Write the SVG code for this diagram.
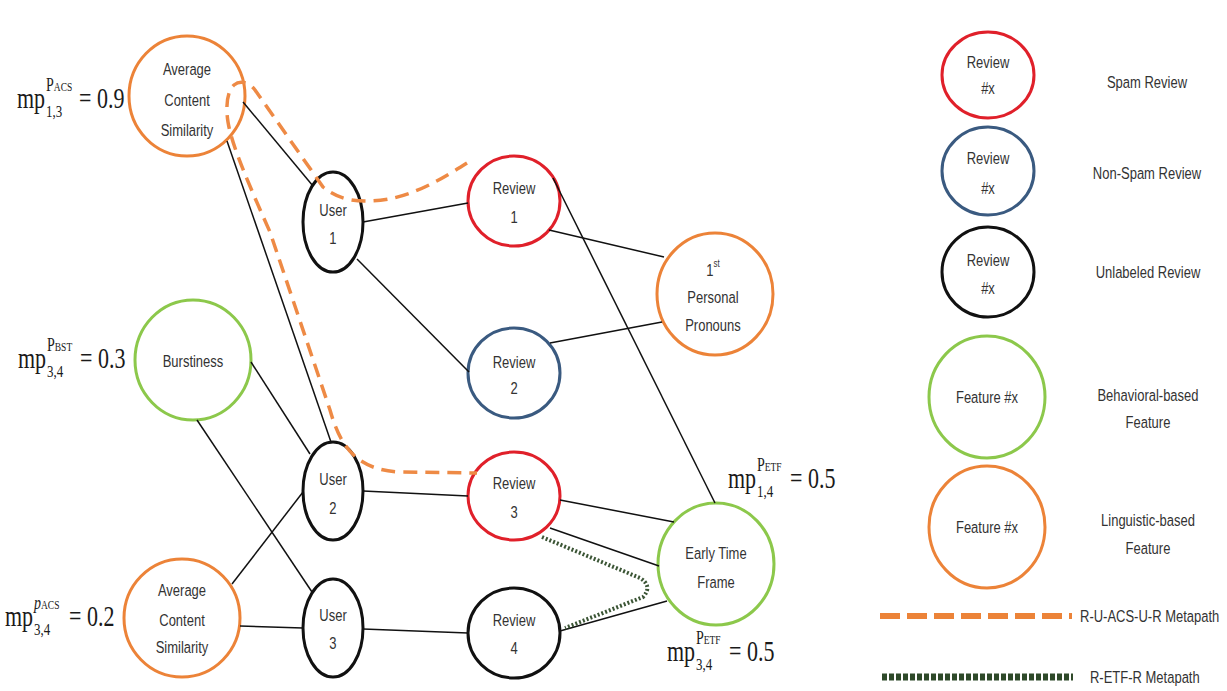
<svg xmlns="http://www.w3.org/2000/svg" width="1227" height="691" viewBox="0 0 1227 691">
<style>
.n{fill:#fff;stroke-width:3}
.red{stroke:#e0202a}.blue{stroke:#3a5a80}.blk{stroke:#111}.grn{stroke:#8cc84b}.org{stroke:#ec8338}
.t{font-family:"Liberation Sans",Arial,sans-serif;font-size:13px;fill:#333;text-anchor:middle;dominant-baseline:central;transform-box:fill-box;transform-origin:center;transform:scaleY(1.3)}
.lg{font-family:"Liberation Sans",Arial,sans-serif;font-size:13px;fill:#333;text-anchor:middle;dominant-baseline:central;transform-box:fill-box;transform-origin:center;transform:scaleY(1.3)}
.lgs{text-anchor:start}
.m{font-family:"Liberation Serif","Times New Roman",serif;fill:#1a1a1a}
.e{stroke:#111;stroke-width:1.5;fill:none}
.mpa{stroke:#ee8a45;stroke-width:3.5;fill:none;stroke-dasharray:14 8}
.mpb{stroke:#3b5535;stroke-width:4;fill:none;stroke-dasharray:2 2}
</style>
<rect width="1227" height="691" fill="#fff"/>
<g id="acs1"><ellipse class="n org" cx="187" cy="96" rx="58" ry="60"/>
<text class="t" x="187" y="69">Average</text><text class="t" x="187" y="100">Content</text><text class="t" x="187" y="130">Similarity</text></g>
<g id="burstiness"><ellipse class="n grn" cx="193" cy="360" rx="58" ry="60"/>
<text class="t" x="193" y="361">Burstiness</text></g>
<g id="acs2"><ellipse class="n org" cx="182" cy="618" rx="58" ry="59"/>
<text class="t" x="182" y="590">Average</text><text class="t" x="182" y="620">Content</text><text class="t" x="182" y="647">Similarity</text></g>
<g id="user1"><ellipse class="n blk" cx="333" cy="222" rx="30" ry="50"/>
<text class="t" x="333" y="210">User</text><text class="t" x="333" y="238">1</text></g>
<g id="user2"><ellipse class="n blk" cx="333" cy="491" rx="30" ry="49"/>
<text class="t" x="333" y="479">User</text><text class="t" x="333" y="508">2</text></g>
<g id="user3"><ellipse class="n blk" cx="333" cy="628" rx="30" ry="49"/>
<text class="t" x="333" y="615">User</text><text class="t" x="333" y="643">3</text></g>
<g id="review1"><ellipse class="n red" cx="514" cy="201" rx="46" ry="45"/>
<text class="t" x="514" y="188">Review</text><text class="t" x="514" y="217">1</text></g>
<g id="review2"><ellipse class="n blue" cx="514" cy="373" rx="46" ry="45"/>
<text class="t" x="514" y="362">Review</text><text class="t" x="514" y="388">2</text></g>
<g id="review3"><ellipse class="n red" cx="514" cy="496" rx="46" ry="44"/>
<text class="t" x="514" y="483">Review</text><text class="t" x="514" y="512">3</text></g>
<g id="review4"><ellipse class="n blk" cx="514" cy="633" rx="46" ry="45"/>
<text class="t" x="514" y="620">Review</text><text class="t" x="514" y="648">4</text></g>
<g id="pronouns"><ellipse class="n org" cx="715" cy="294" rx="58" ry="61"/>
<text class="t" x="713" y="270">1<tspan font-size="8" dy="-5">st</tspan></text><text class="t" x="713" y="297">Personal</text><text class="t" x="713" y="325">Pronouns</text></g>
<g id="etf"><ellipse class="n grn" cx="716" cy="564" rx="58" ry="61"/>
<text class="t" x="716" y="553">Early Time</text><text class="t" x="716" y="582">Frame</text></g>
<g id="connectors">
<line class="e" x1="243" y1="102" x2="313" y2="186"/>
<line class="e" x1="227" y1="141" x2="331" y2="442"/>
<line class="e" x1="363" y1="222" x2="468" y2="203"/>
<line class="e" x1="357" y1="259" x2="469" y2="372"/>
<line class="e" x1="549" y1="230" x2="664" y2="257"/>
<line class="e" x1="550" y1="343" x2="662" y2="322"/>
<line class="e" x1="553" y1="178" x2="715" y2="503"/>
<line class="e" x1="251" y1="362" x2="310" y2="454"/>
<line class="e" x1="197" y1="420" x2="312" y2="592"/>
<line class="e" x1="232" y1="584" x2="303" y2="492"/>
<line class="e" x1="240" y1="626" x2="303" y2="628"/>
<line class="e" x1="363" y1="491" x2="468" y2="496"/>
<line class="e" x1="363" y1="629" x2="468" y2="633"/>
<line class="e" x1="560" y1="500" x2="674" y2="522"/>
<line class="e" x1="550" y1="528" x2="659" y2="566"/>
<line class="e" x1="560" y1="631" x2="667" y2="601"/>
<path class="mpb" d="M542,537 L640,578 Q653,586 643,597 L565,628"/>
<path class="mpa" d="M467,163 C440,180 405,202 365,201 C345,201 333,195 323,187 L255,90 C249,82 240,80 234,85 C226,92 226,110 228,122 C231,140 240,165 270,232 L330,410 C340,445 355,470 400,472 L477,473"/>
</g>
<g id="labels">
<g transform="translate(17,100) scale(1,1.3)"><text class="m" x="0" y="6" font-size="22">mp</text><text class="m" x="29" y="-7" font-size="14">P<tspan font-size="9.5">ACS</tspan></text><text class="m" x="29" y="13" font-size="13">1,3</text><text class="m" x="62" y="6" font-size="22">= 0.9</text></g>
<g transform="translate(18,360) scale(1,1.3)"><text class="m" x="0" y="6" font-size="22">mp</text><text class="m" x="29" y="-7" font-size="14">P<tspan font-size="9.5">BST</tspan></text><text class="m" x="29" y="13" font-size="13">3,4</text><text class="m" x="62" y="6" font-size="22">= 0.3</text></g>
<g transform="translate(5,618) scale(1,1.3)"><text class="m" x="0" y="6" font-size="22">mp</text><text class="m" x="29" y="-7" font-size="14" font-style="italic">p<tspan font-size="9.5" font-style="normal">ACS</tspan></text><text class="m" x="29" y="13" font-size="13">3,4</text><text class="m" x="64" y="6" font-size="22">= 0.2</text></g>
<g transform="translate(728,480) scale(1,1.3)"><text class="m" x="0" y="6" font-size="22">mp</text><text class="m" x="29" y="-7" font-size="14">P<tspan font-size="9.5">ETF</tspan></text><text class="m" x="29" y="13" font-size="13">1,4</text><text class="m" x="62" y="6" font-size="22">= 0.5</text></g>
<g transform="translate(667,653) scale(1,1.3)"><text class="m" x="0" y="6" font-size="22">mp</text><text class="m" x="29" y="-7" font-size="14">P<tspan font-size="9.5">ETF</tspan></text><text class="m" x="29" y="13" font-size="13">3,4</text><text class="m" x="62" y="6" font-size="22">= 0.5</text></g>
</g>
<g id="legend">
<g id="lg-spam"><ellipse class="n red" cx="988" cy="75" rx="46" ry="43"/><text class="lg" x="988" y="62">Review</text><text class="lg" x="988" y="88">#x</text><text class="lg" x="1147" y="82">Spam Review</text></g>
<g id="lg-nonspam"><ellipse class="n blue" cx="988" cy="171" rx="46" ry="44"/><text class="lg" x="988" y="158">Review</text><text class="lg" x="988" y="188">#x</text><text class="lg" x="1147" y="173">Non-Spam Review</text></g>
<g id="lg-unlabeled"><ellipse class="n blk" cx="988" cy="272" rx="46" ry="45"/><text class="lg" x="988" y="260">Review</text><text class="lg" x="988" y="288">#x</text><text class="lg" x="1148" y="272">Unlabeled Review</text></g>
<g id="lg-behav"><ellipse class="n grn" cx="987" cy="397" rx="58" ry="61"/><text class="lg" x="987" y="397">Feature #x</text><text class="lg" x="1148" y="395">Behavioral-based</text><text class="lg" x="1148" y="422">Feature</text></g>
<g id="lg-ling"><ellipse class="n org" cx="987" cy="527" rx="58" ry="61"/><text class="lg" x="987" y="527">Feature #x</text><text class="lg" x="1148" y="520">Linguistic-based</text><text class="lg" x="1148" y="548">Feature</text></g>
<g id="lg-mpa"><line x1="880" y1="616" x2="1072" y2="616" stroke="#ec8338" stroke-width="6" stroke-dasharray="20 7"/><text class="lg lgs" x="1080" y="616">R-U-ACS-U-R Metapath</text></g>
<g id="lg-mpb"><line x1="882" y1="677" x2="1073" y2="677" stroke="#2f4a2a" stroke-width="7" stroke-dasharray="5 2"/><text class="lg lgs" x="1090" y="677">R-ETF-R Metapath</text></g>
</g>
</svg>
